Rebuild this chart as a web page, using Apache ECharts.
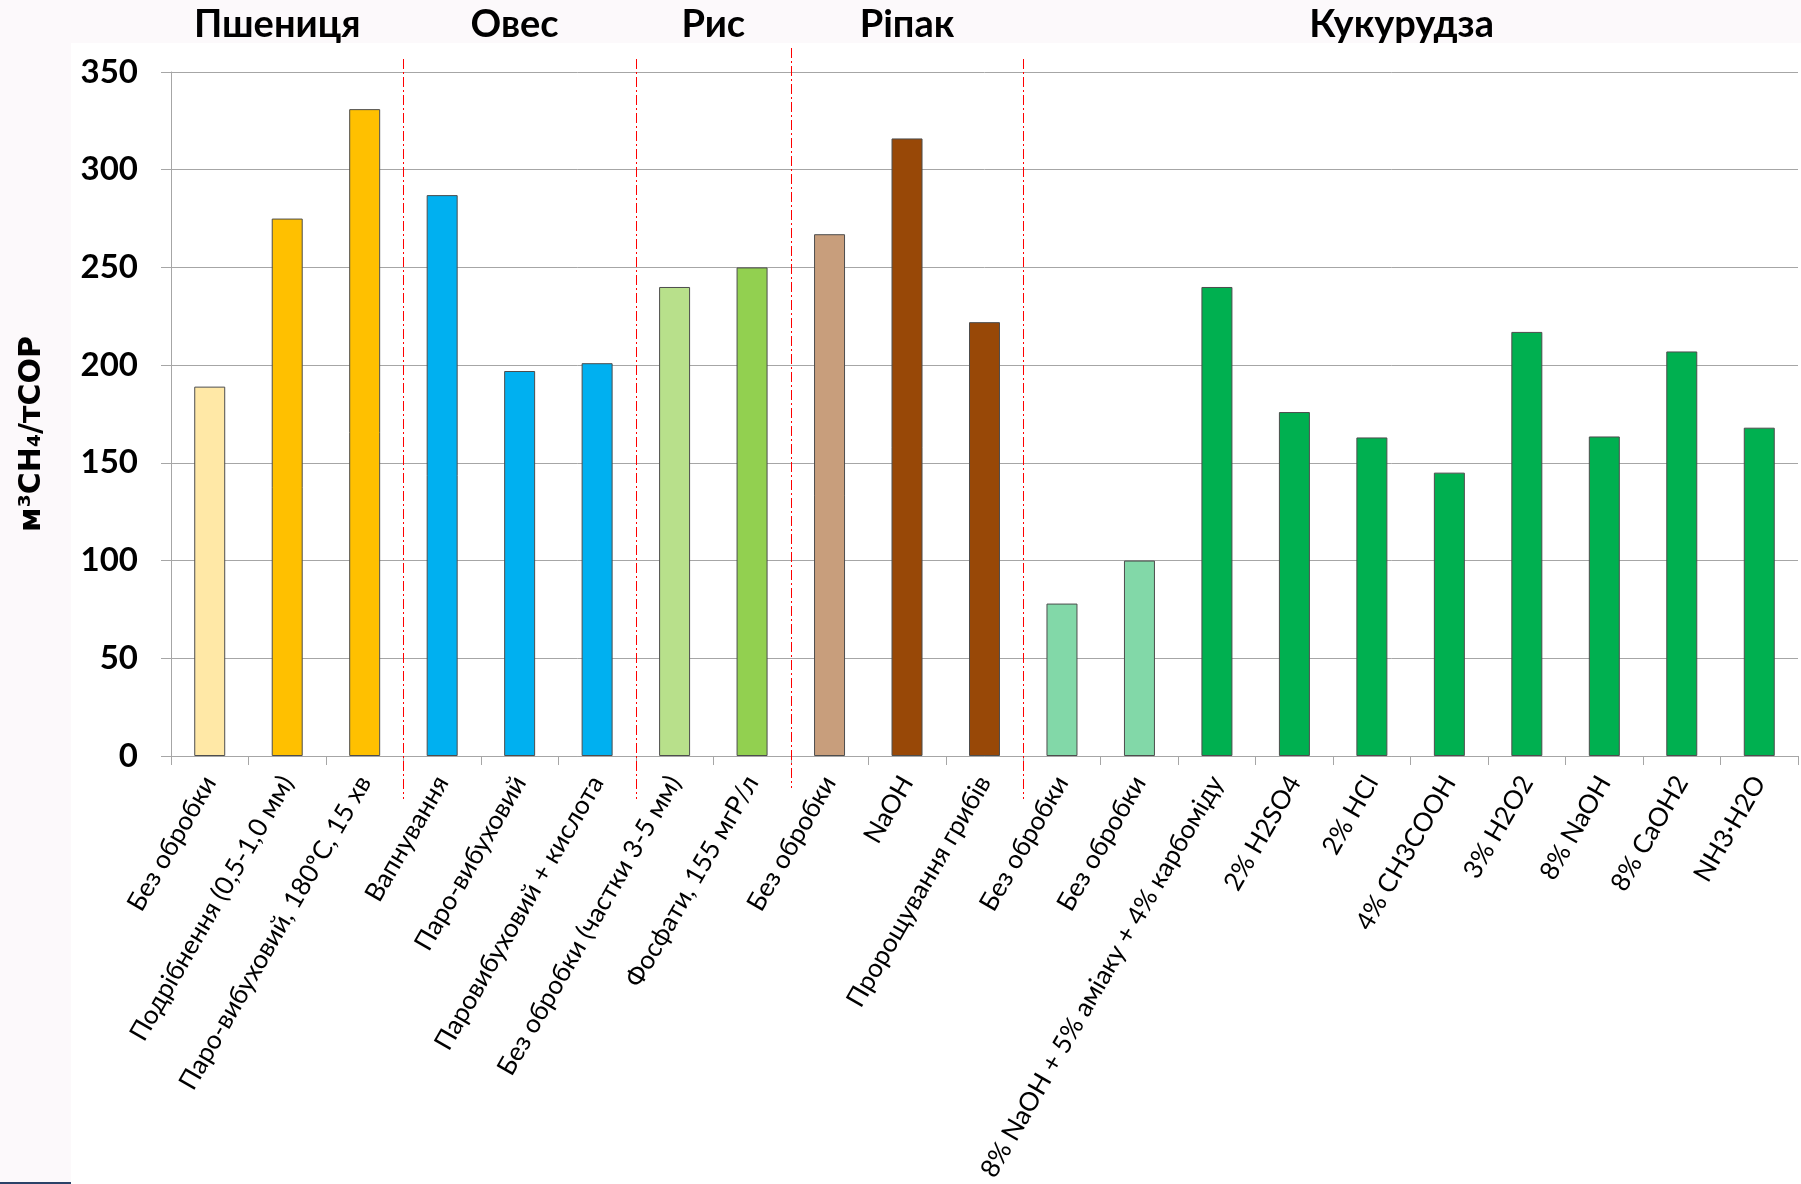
<!DOCTYPE html>
<html>
<head>
<meta charset="utf-8">
<script src="https://cdn.jsdelivr.net/npm/echarts@6/dist/echarts.min.js"></script>
<style>
  html, body { margin: 0; padding: 0; background: #fcf9fb; }
  #sheet { position: absolute; left: 71px; top: 43px; right: 0; bottom: 0; background: #ffffff; }
  #edge { position: absolute; left: 0; top: 1182px; width: 71px; height: 2px; background: #2b4268; }
  #chart { position: absolute; left: 0; top: 0; width: 1801px; height: 1184px; }
</style>
</head>
<body>
<div id="sheet"></div>
<div id="edge"></div>
<div id="chart"></div>
<script>
// Treatment methods, grouped by crop (left to right)
const categories = [
  'Без обробки', 'Подрібнення (0,5-1,0 мм)', 'Паро-вибуховий, 180ºC, 15 хв',
  'Вапнування', 'Паро-вибуховий', 'Паровибуховий + кислота',
  'Без обробки (частки 3-5 мм)', 'Фосфати, 155 мгР/л',
  'Без обробки', 'NaOH', 'Пророщування грибів',
  'Без обробки', 'Без обробки', '8% NaOH + 5% аміаку + 4% карбоміду',
  '2% H2SO4', '2% HCl', '4% CH3COOH', '3% H2O2', '8% NaOH', '8% CaOH2', 'NH3·H2O'
];

// Methane yield, m³ CH4 per tonne of organic dry matter
const methaneYield = [
  189, 275, 331,
  287, 197, 201,
  240, 250,
  267, 316, 222,
  78, 100, 240, 176, 163, 145, 217, 163.5, 207, 168
];

const barColors = [
  '#ffe8a6', '#ffc000', '#ffc000',
  '#00b0f0', '#00b0f0', '#00b0f0',
  '#b8e08b', '#92d050',
  '#c89e7c', '#984807', '#984807',
  '#82d8a8', '#82d8a8', '#00b050', '#00b050', '#00b050', '#00b050', '#00b050', '#00b050', '#00b050', '#00b050'
];

// Crop groups: name, first and last category index
const cropNames = ['Пшениця', 'Овес', 'Рис', 'Ріпак', 'Кукурудза'];
const cropFirst = [0, 3, 6, 8, 11];
const cropLast = [2, 5, 7, 10, 20];

// Value axis
const yMin = 0;
const yMax = 350;
const yStep = 50;

const chart = echarts.init(document.getElementById('chart'), null, { renderer: 'canvas' });

const axisGrey = '#a6a6a6';

chart.setOption({
  animation: false,
  backgroundColor: 'transparent',
  grid: { left: 171, right: 3, top: 72, bottom: 428, containLabel: false, outerBoundsMode: 'none' },
  xAxis: {
    type: 'category',
    data: categories,
    axisLine: { lineStyle: { color: axisGrey, width: 1 } },
    axisTick: { show: true, length: 9, lineStyle: { color: axisGrey } },
    axisLabel: {
      interval: 0,
      rotate: 60,
      margin: 22,
      color: '#000',
      fontFamily: 'Lato, "Open Sans", sans-serif',
      fontSize: 26
    },
    splitLine: { show: false }
  },
  yAxis: {
    type: 'value',
    min: yMin,
    max: yMax,
    interval: yStep,
    name: 'м³CH₄/тСОР',
    nameLocation: 'middle',
    nameGap: 124,
    nameTextStyle: {
      color: '#000',
      fontFamily: '"DejaVu Sans", sans-serif',
      fontWeight: 'bold',
      fontSize: 30,
      padding: [0, 40, 0, 0]
    },
    axisLine: { show: true, lineStyle: { color: axisGrey, width: 1 } },
    axisTick: { show: true, length: 10, lineStyle: { color: axisGrey } },
    axisLabel: {
      margin: 33,
      color: '#000',
      fontFamily: 'Lato, "Open Sans", sans-serif',
      fontWeight: 'bold',
      fontSize: 33
    },
    splitLine: { show: true, lineStyle: { color: axisGrey, width: 1 } }
  },
  series: [{
    type: 'bar',
    barWidth: '40%',
    data: methaneYield.map((v, i) => ({
      value: v,
      itemStyle: { color: barColors[i] }
    })),
    itemStyle: { borderColor: '#4d4d4d', borderWidth: 1 }
  }]
});

// Crop titles above the plot and dash-dot separators between crop groups
const xPx = i => chart.convertToPixel({ xAxisIndex: 0 }, i);
const yPx = v => chart.convertToPixel({ yAxisIndex: 0 }, v);

const titleNudge = [-10, -5, 0, 0, -9];
const graphics = [];
for (let g = 0; g < cropNames.length; g++) {
  const cx = (xPx(cropFirst[g]) + xPx(cropLast[g])) / 2 + titleNudge[g];
  graphics.push({
    type: 'text',
    x: cx,
    y: 25,
    silent: true,
    style: {
      text: cropNames[g],
      fill: '#000',
      font: 'bold 38px Lato, "Open Sans", sans-serif',
      align: 'center',
      verticalAlign: 'middle',
      textAlign: 'center',
      textVerticalAlign: 'middle'
    }
  });
}
const sepShift = [0, 0, -11, 0];
for (let g = 0; g < cropNames.length - 1; g++) {
  const sx = Math.round((xPx(cropLast[g]) + xPx(cropFirst[g + 1])) / 2) + 0.5;
  graphics.push({
    type: 'line',
    silent: true,
    shape: { x1: sx, y1: yPx(yMax) - 13 + sepShift[g], x2: sx, y2: yPx(yMin) + 43 + sepShift[g] },
    style: { stroke: '#ff0000', lineWidth: 1, lineDash: [10, 3, 2, 3] },
    z: 10
  });
}
chart.setOption({ graphic: graphics });
</script>
</body>
</html>
